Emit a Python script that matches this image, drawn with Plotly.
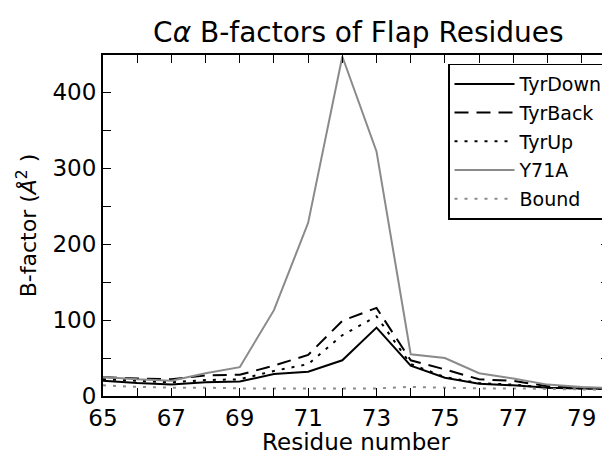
import plotly.graph_objects as go

residues = list(range(65, 81))
tyr_down = [20, 17, 15, 18, 19, 29, 32, 47, 90, 40, 24, 16, 14, 11, 10, 9]
tyr_back = [25, 23, 22, 27, 28, 40, 54, 99, 116, 47, 35, 22, 20, 13, 11, 9]
tyr_up = [22, 20, 18, 21, 22, 33, 42, 80, 105, 42, 25, 17, 15, 11, 10, 9]
y71a = [25, 22, 20, 30, 38, 113, 228, 447, 322, 55, 50, 30, 23, 15, 12, 10]
bound = [14, 12, 11, 11, 10, 10, 10, 10, 10, 12, 11, 10, 10, 9, 9, 8]

x_ticks = [65, 67, 69, 71, 73, 75, 77, 79]
y_ticks = [0, 100, 200, 300, 400]

series = [
    ("TyrDown", tyr_down, "black", "solid"),
    ("TyrBack", tyr_back, "black", "14px,8px"),
    ("TyrUp", tyr_up, "black", "3px,7px"),
    ("Y71A", y71a, "#8a8a8a", "solid"),
    ("Bound", bound, "#8a8a8a", "3px,7px"),
]

fig = go.Figure()
for name, vals, color, dash in series:
    fig.add_trace(go.Scatter(x=residues, y=vals, mode="lines", name=name, legendgroup=name,
                             line=dict(color=color, width=2, dash=dash)))

font = "DejaVu Sans, sans-serif"
fig.update_layout(
    width=602, height=447,
    margin=dict(l=95, r=1, t=47, b=59, autoexpand=False),
    paper_bgcolor="white", plot_bgcolor="white",
    font=dict(family=font, color="black", size=22),
    title=dict(text="C<i>α</i> B-factors of Flap Residues", x=0.582, xanchor="center",
               y=0.945, yanchor="middle", font=dict(size=28, family=font)),
    showlegend=True,
    legend=dict(x=1.0, y=0.975, xanchor="right", yanchor="top",
                bgcolor="white", bordercolor="black", borderwidth=1.5,
                font=dict(size=19, family=font), tracegroupgap=1, itemwidth=60),
)
fig.update_xaxes(range=[65, 79.8], tickvals=x_ticks, ticks="inside", ticklen=8,
                 tickwidth=1, tickcolor="black", showline=True, linecolor="black",
                 linewidth=2, mirror="allticks", showgrid=False, zeroline=False,
                 automargin=False,
                 minor=dict(dtick=1, ticks="inside", ticklen=8, tickcolor="black", showgrid=False),
                 title=dict(text="Residue number", font=dict(size=23), standoff=2),
                 tickfont=dict(size=23))
fig.update_yaxes(range=[0, 449], tickvals=y_ticks, ticks="inside", ticklen=8,
                 tickwidth=1, tickcolor="black", showline=True, linecolor="black",
                 linewidth=2, mirror="allticks", showgrid=False, zeroline=False,
                 automargin=False,
                 minor=dict(dtick=50, ticks="inside", ticklen=8, tickcolor="black", showgrid=False),
                 title=dict(text="B-factor (<i>Å</i><sup>2</sup> )", font=dict(size=22), standoff=10),
                 tickfont=dict(size=23))

fig.write_html("out.html")
